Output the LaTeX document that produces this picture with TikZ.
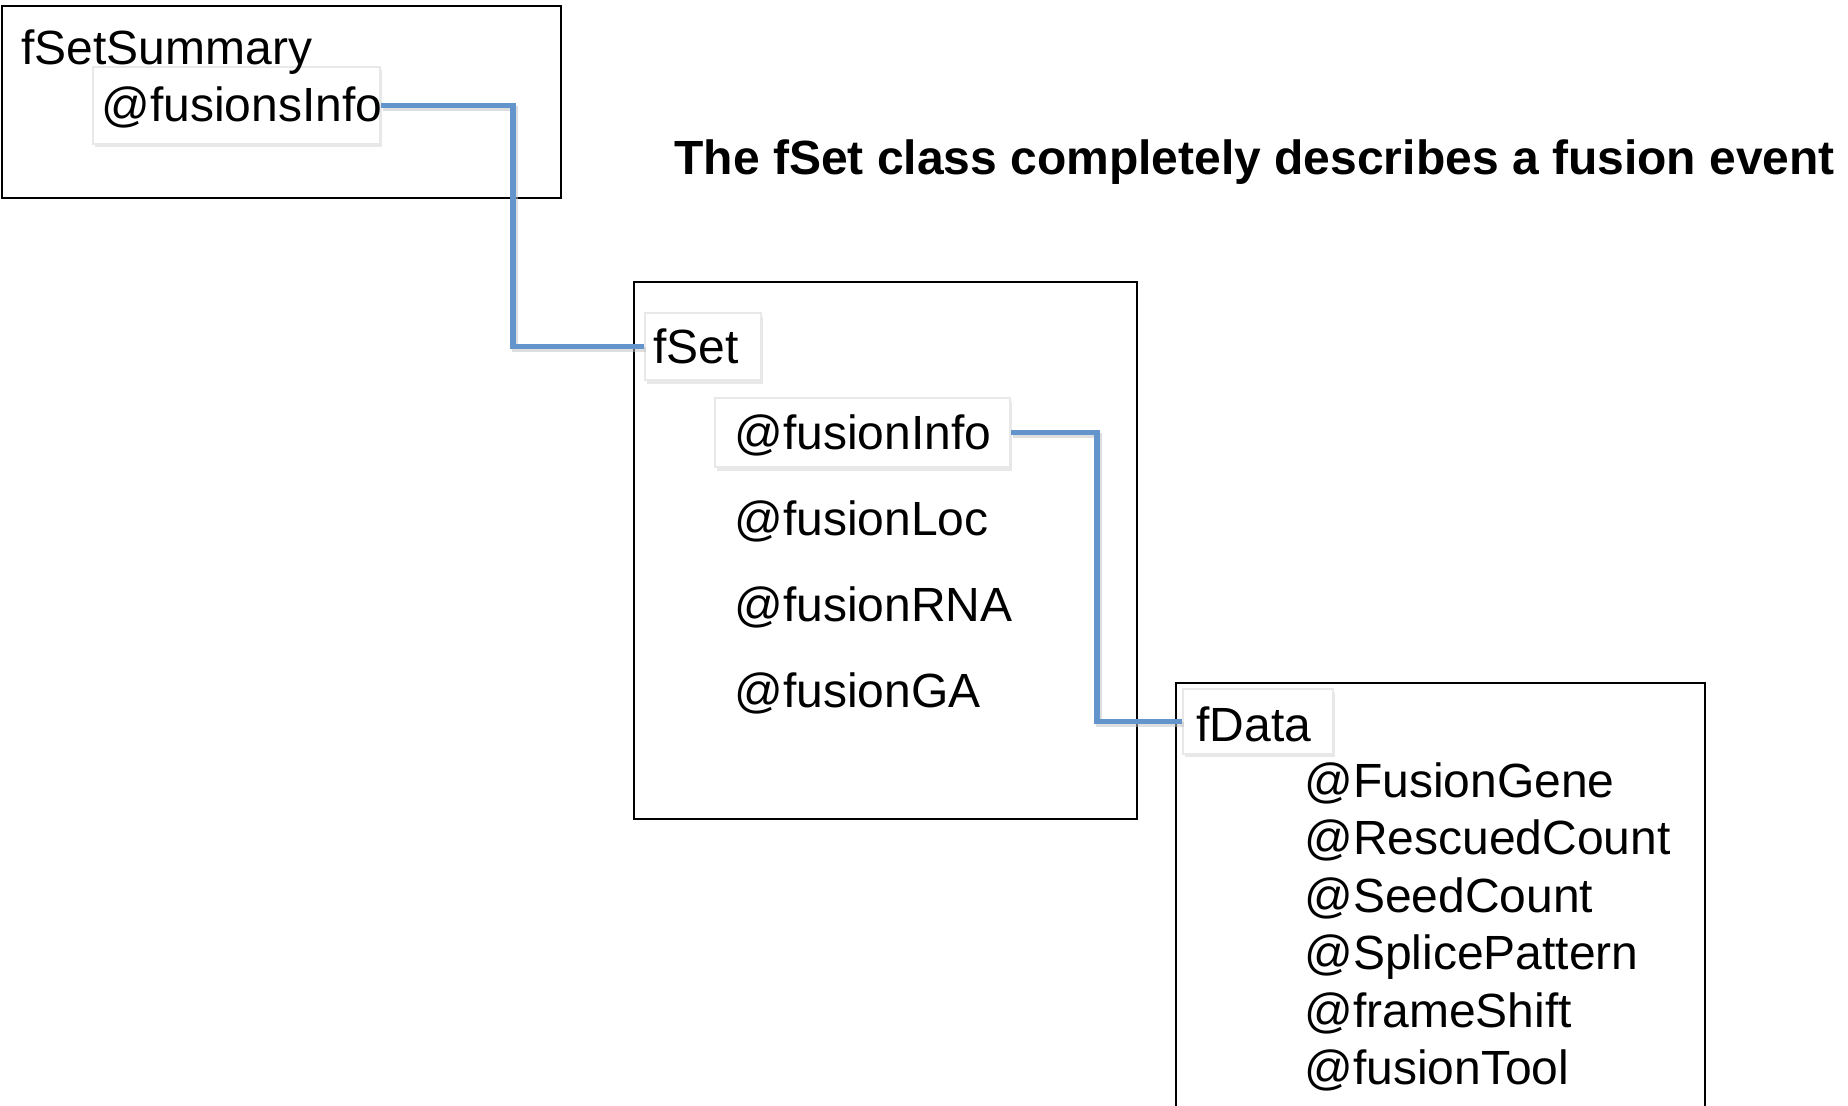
\documentclass[tikz,border=0pt]{standalone}
\usepackage{fontspec}
\setmainfont{Liberation Sans}
\usetikzlibrary{fit}
\definecolor{connblue}{RGB}{99,149,204}
\tikzset{
  classbox/.style={draw=black, line width=1pt, inner sep=0pt, fill=none},
  hlshadow/.style={draw=none, fill=black!9, inner sep=0pt},
  hlbox/.style={draw=black!9, line width=1pt, fill=white, inner sep=0pt},
  lbl/.style={anchor=base west, inner sep=0pt, font=\fontsize{24}{28.8}\selectfont},
  ttl/.style={anchor=base west, inner sep=0pt, font=\fontsize{24}{28.8}\selectfont\bfseries},
  conn/.style={draw=connblue, line width=2.6pt},
  connsh/.style={draw=black!25, line width=2.6pt, opacity=0.5},
}
\begin{document}
\begin{tikzpicture}[x=0.5pt, y=-0.5pt]
\useasboundingbox (0,0) rectangle (1848,1105);
\clip (0,0) rectangle (1848,1105);
\fill[white] (0,0) rectangle (1848,1105);

% class boxes
\node[classbox, fit={(2,6) (561,198)}] (sumbox) {};
\node[classbox, fit={(634,282) (1137,819)}] (setbox) {};
\node[classbox, fit={(1176,683) (1705,1140)}] (databox) {};

% highlight shadows
\node[hlshadow, fit={(95,70) (382,147)}] (sh1) {};
\node[hlshadow, fit={(647,317) (763,384)}] (sh2) {};
\node[hlshadow, fit={(717,402) (1012,471)}] (sh3) {};
\node[hlshadow, fit={(1185,693) (1335,757)}] (sh4) {};

% highlight boxes
\node[hlbox, fit={(93,67) (380,144)}] (hl1) {};
\node[hlbox, fit={(645,313) (761,380)}] (hl2) {};
\node[hlbox, fit={(715,398) (1010,467)}] (hl3) {};
\node[hlbox, fit={(1183,689) (1333,754)}] (hl4) {};

% junction coordinates
\coordinate (j1) at (513,0);
\coordinate (j2) at (1097,0);

% connector shadows
\draw[connsh, transform canvas={xshift=1pt, yshift=-1.5pt}] (hl1.east) -- (hl1.east -| j1) -- (hl2.west -| j1) -- (hl2.west);
\draw[connsh, transform canvas={xshift=1pt, yshift=-1.5pt}] (hl3.east) -- (hl3.east -| j2) -- (hl4.west -| j2) -- (hl4.west);

% connectors
\draw[conn] (hl1.east) -- (hl1.east -| j1) -- (hl2.west -| j1) -- (hl2.west);
\draw[conn] (hl3.east) -- (hl3.east -| j2) -- (hl4.west -| j2) -- (hl4.west);

% texts
\node[lbl] (tsum) at (21,64) {fSetSummary};
\node[lbl] (tsuminfo) at (101,121) {@fusionsInfo};
\node[ttl] (title) at (674,174) {The fSet class completely describes a fusion event};

\node[lbl] (tset) at (653,363) {fSet};
\node[lbl] (tinfo) at (734,449) {@fusionInfo};
\node[lbl] (tloc) at (734,535) {@fusionLoc};
\node[lbl] (trna) at (734,621) {@fusionRNA};
\node[lbl] (tga) at (734,707) {@fusionGA};

\node[lbl] (tdata) at (1196,741) {fData};
\node[lbl] (tgene) at (1304,797) {@FusionGene};
\node[lbl] (tresc) at (1304,854.5) {@RescuedCount};
\node[lbl] (tseed) at (1304,912) {@SeedCount};
\node[lbl] (tsplice) at (1304,969.5) {@SplicePattern};
\node[lbl] (tframe) at (1304,1027) {@frameShift};
\node[lbl] (ttool) at (1304,1084.5) {@fusionTool};
\end{tikzpicture}
\end{document}
